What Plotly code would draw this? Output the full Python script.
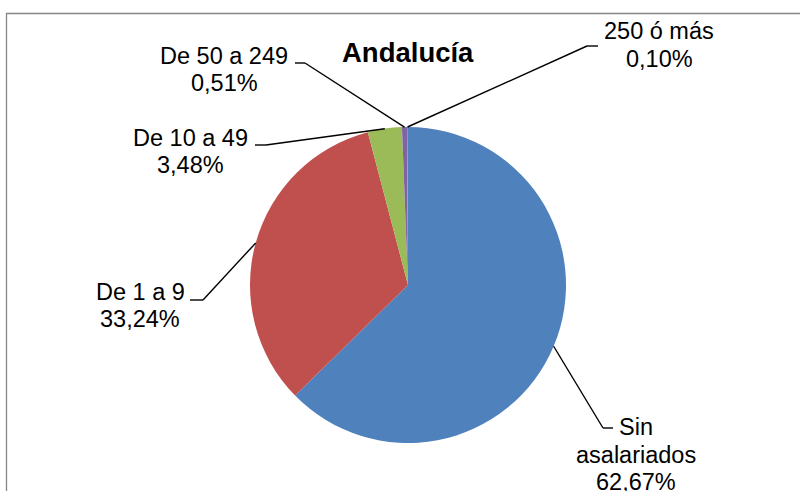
import math

import plotly.graph_objects as go

# datos
labels = ["Sin asalariados", "De 1 a 9", "De 10 a 49", "De 50 a 249", "250 ó más"]
label_lines = [["Sin", "asalariados"], ["De 1 a 9"], ["De 10 a 49"], ["De 50 a 249"], ["250 ó más"]]
shares = [62.67, 33.24, 3.48, 0.51, 0.10]
colors = ["#4F81BD", "#C0504D", "#9BBB59", "#8064A2", "#4BACC6"]
title = "Andalucía"

# geometria (pixeles)
W, H = 800, 491
CX, CY, R = 408, 285, 158
text_pos = [(636, 427), (140, 291.5), (190.5, 137.5), (224, 56), (659, 31)]
line_gap = 27.5
elbows = [((603, 428), (613, 428)), ((203, 300), (190, 300)), ((266, 145), (255, 145)),
          ((305, 63), (295, 63)), ((587, 46), (598, 46))]
FONT = "Liberation Sans, Arial, sans-serif"


def px(x):
    return x / W


def py(y):
    return 1 - y / H


fig = go.Figure(go.Pie(
    labels=labels, values=shares, sort=False, direction="clockwise", rotation=0,
    marker=dict(colors=colors, line=dict(width=0)),
    textinfo="none", hoverinfo="label+percent",
    domain=dict(x=[px(CX - R), px(CX + R)], y=[py(CY + R), py(CY - R)]),
    showlegend=False,
))

shapes = [dict(type="rect", xref="paper", yref="paper",
               x0=px(6.5), y0=py(13.5), x1=1.02, y1=-0.02,
               line=dict(color="#868686", width=1.3))]
annotations = [dict(text="<b>%s</b>" % title, x=px(CX), y=py(52), xref="paper", yref="paper",
                    showarrow=False, xanchor="center", yanchor="middle",
                    font=dict(family=FONT, size=27.5, color="black"))]

total = sum(shares)
cum = 0
for i, v in enumerate(shares):
    mid = (cum + v / 2) / total * 2 * math.pi
    cum += v
    ex, ey = CX + R * math.sin(mid), CY - R * math.cos(mid)
    (bx, by), (tx, ty) = elbows[i]
    for (x0, y0, x1, y1) in [(ex, ey, bx, by), (bx, by, tx, ty)]:
        shapes.append(dict(type="line", xref="paper", yref="paper",
                           x0=px(x0), y0=py(y0), x1=px(x1), y1=py(y1),
                           line=dict(color="black", width=1.4)))
    pct = ("%.2f" % v).replace(".", ",") + "%"
    lines = label_lines[i] + [pct]
    lx, ly = text_pos[i]
    for k, t in enumerate(lines):
        annotations.append(dict(text=t, x=px(lx), y=py(ly + k * line_gap), xref="paper", yref="paper",
                                showarrow=False, xanchor="center", yanchor="middle",
                                font=dict(family=FONT, size=23.5, color="black")))

fig.update_layout(
    width=W, height=H, margin=dict(l=0, r=0, t=0, b=0),
    paper_bgcolor="white", plot_bgcolor="white",
    shapes=shapes, annotations=annotations,
)

# sin margen del body, para que el grafico llene la ventana
fig.write_html("out.html", config={"displayModeBar": False},
               post_script="document.body.style.margin='0';")
